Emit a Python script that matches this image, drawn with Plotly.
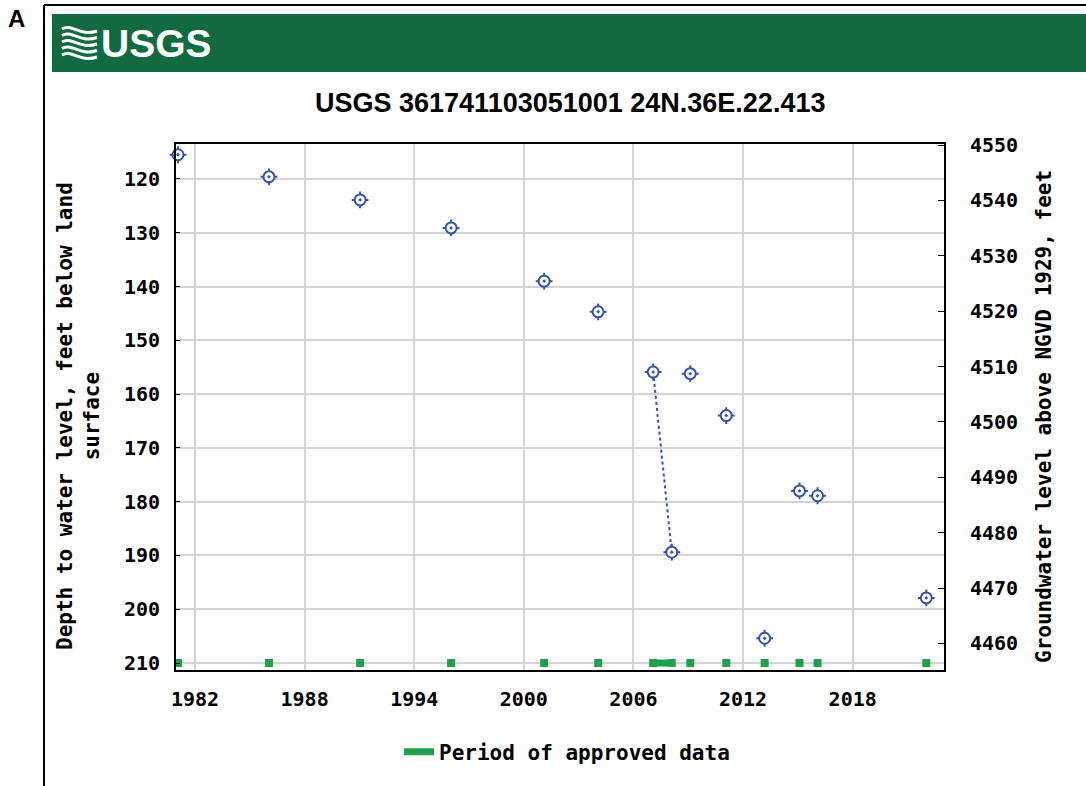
import plotly.graph_objects as go

# ---- data ----
dates = ["1981-01-26", "1986-01-19", "1991-01-15", "1996-01-08", "2001-02-10",
         "2004-01-26", "2007-01-30", "2008-02-06", "2009-02-10", "2011-01-30",
         "2013-03-08", "2015-02-03", "2016-01-30", "2022-01-12"]
depths = [115.5, 119.6, 123.9, 129.1, 139.0, 144.7, 155.9, 189.4, 156.2, 164.0,
          205.4, 178.0, 178.9, 197.9]
connected_idx = [6, 7]          # the only pair joined by a dotted line
approved_period = ["2007-01-30", "2008-02-06"]   # continuous approved bar
approved_level = 210

title_text = "USGS 361741103051001 24N.36E.22.413"
left_title = "Depth to water level, feet below land<br>surface"
right_title = "Groundwater level above NGVD 1929, feet"
legend_label = "Period of approved data"
x_ticks_start, x_tick_months = "1982-01-01", "M72"
left_ticks = [120, 130, 140, 150, 160, 170, 180, 190, 200, 210]
right_ticks = [4460, 4470, 4480, 4490, 4500, 4510, 4520, 4530, 4540, 4550]

# ---- geometry ----
W, H = 1086, 786
L, R, T, B = 176, 944, 144, 670
def px(x):
    return (x - L) / (R - L)
def py(y):
    return (B - y) / (B - T)

BLUE = "#3352ad"
GREEN = "#21a04b"
HEADER = "#116b3e"
MONO = "DejaVu Sans Mono"

fig = go.Figure()

# approved data: squares at each measurement + continuous bar
fig.add_trace(go.Scatter(x=approved_period, y=[approved_level] * len(approved_period),
                         mode="lines", line=dict(color=GREEN, width=7),
                         name=legend_label, showlegend=True, cliponaxis=False))
fig.add_trace(go.Scatter(x=dates, y=[approved_level] * len(dates), mode="markers",
                         marker=dict(symbol="square", size=8, color=GREEN),
                         showlegend=False, cliponaxis=False))

# dotted connector
fig.add_trace(go.Scatter(x=[dates[i] for i in connected_idx],
                         y=[depths[i] for i in connected_idx],
                         mode="lines", line=dict(color=BLUE, width=2, dash="dot"),
                         showlegend=False))
# markers: crosshair ticks + white disk + open circle with dot
fig.add_trace(go.Scatter(x=dates, y=depths, mode="markers",
                         marker=dict(symbol="cross-thin-open", size=12, color=BLUE,
                                     line=dict(color=BLUE, width=2)),
                         showlegend=False, cliponaxis=False))
fig.add_trace(go.Scatter(x=dates, y=depths, mode="markers",
                         marker=dict(symbol="circle", size=11, color="white",
                                     line=dict(width=0)),
                         showlegend=False, cliponaxis=False))
fig.add_trace(go.Scatter(x=dates, y=depths, mode="markers",
                         marker=dict(symbol="circle-open-dot", size=11, color=BLUE,
                                     line=dict(color=BLUE, width=2)),
                         showlegend=False, cliponaxis=False))
# right axis carrier
fig.add_trace(go.Scatter(x=[dates[0]], y=[right_ticks[0]], yaxis="y2", mode="markers",
                         marker=dict(opacity=0), showlegend=False, hoverinfo="skip"))

tickfont = dict(family=MONO, size=20, color="black", weight="bold")

fig.update_layout(
    width=W, height=H,
    margin=dict(l=L, r=W - R, t=T, b=H - B),
    paper_bgcolor="white", plot_bgcolor="white",
    showlegend=True,
    legend=dict(orientation="h", x=px(567), y=py(752), xanchor="center", yanchor="middle",
                font=dict(family=MONO, size=21, color="black", weight="bold"),
                itemwidth=30, bgcolor="rgba(0,0,0,0)"),
    xaxis=dict(type="date", range=["1980-12-17", "2023-01-01"],
               tick0=x_ticks_start, dtick=x_tick_months, tickformat="%Y",
               showgrid=True, gridcolor="#d4d4d4", gridwidth=2,
               showline=True, linecolor="black", linewidth=2, mirror=True,
               ticks="", tickfont=tickfont, ticklabelstandoff=10, zeroline=False),
    yaxis=dict(range=[211.3, 113.5], tickvals=left_ticks,
               showgrid=True, gridcolor="#d4d4d4", gridwidth=2,
               showline=True, linecolor="black", linewidth=2, mirror=True,
               ticks="inside", ticklen=4, tickcolor="black",
               tickfont=tickfont, ticklabelstandoff=10, zeroline=False),
    yaxis2=dict(range=[4455.2, 4550.2], tickvals=right_ticks, overlaying="y", side="right",
                showgrid=False, showline=True, linecolor="black", linewidth=2,
                ticks="inside", ticklen=6, tickcolor="black",
                tickfont=tickfont, ticklabelstandoff=20, zeroline=False),
)

# frame, header band
shapes = [
    dict(type="line", xref="paper", yref="paper", x0=px(44), x1=px(44), y0=py(5), y1=py(790),
         line=dict(color="black", width=2)),
    dict(type="line", xref="paper", yref="paper", x0=px(44), x1=px(1090), y0=py(5), y1=py(5),
         line=dict(color="black", width=2)),
    dict(type="rect", xref="paper", yref="paper", x0=px(52), x1=px(1090), y0=py(14), y1=py(72),
         fillcolor=HEADER, line=dict(width=0), layer="below"),
]
# USGS wave icon
for k in range(5):
    y0 = 29 + k * 6.5
    path = (f"M {px(62)},{py(y0)} C {px(72)},{py(y0 - 6)} {px(80)},{py(y0 + 8)} "
            f"{px(97)},{py(y0 + 2)}")
    shapes.append(dict(type="path", xref="paper", yref="paper", path=path,
                       line=dict(color="white", width=3)))
fig.update_layout(shapes=shapes)

annotations = [
    dict(text="A", x=px(16), y=py(18), xref="paper", yref="paper", showarrow=False,
         xanchor="center", yanchor="middle",
         font=dict(family="Liberation Sans", size=24, color="black", weight="bold")),
    dict(text="USGS", x=px(99), y=py(44), xref="paper", yref="paper", showarrow=False,
         xanchor="left", yanchor="middle",
         font=dict(family="Liberation Sans", size=39, color="white", weight="bold")),
    dict(text=title_text, x=px(570), y=py(103), xref="paper", yref="paper", showarrow=False,
         xanchor="center", yanchor="middle",
         font=dict(family="Liberation Sans", size=27, color="black", weight="bold")),
    dict(text=left_title, x=px(78), y=py(416), xref="paper", yref="paper", showarrow=False,
         xanchor="center", yanchor="middle",
         textangle=-90, font=dict(family=MONO, size=21, color="black", weight="bold")),
    dict(text=right_title, x=px(1044), y=py(417), xref="paper", yref="paper", showarrow=False,
         xanchor="center", yanchor="middle",
         textangle=-90, font=dict(family=MONO, size=21, color="black", weight="bold")),
]
fig.update_layout(annotations=annotations)

fig.write_html("out.html", config={"displayModeBar": False},
               post_script="document.body.style.margin='0';")
